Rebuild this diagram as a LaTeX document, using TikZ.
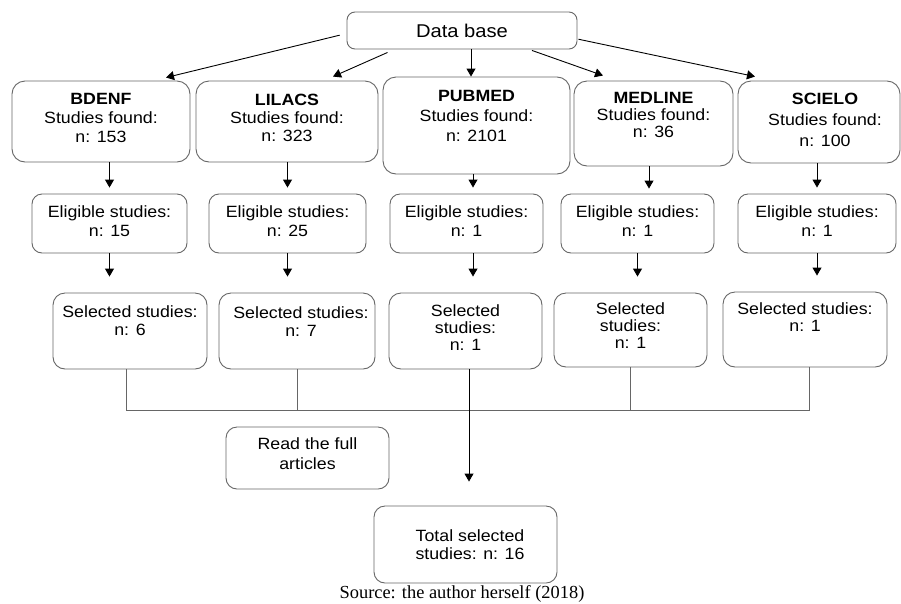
\documentclass[tikz,border=0pt]{standalone}
\usepackage{fontspec}
\setmainfont{Liberation Sans}[FakeStretch=1.09]
\newfontfamily\sourcefont{Liberation Serif}
\usetikzlibrary{arrows.meta,positioning}

\begin{document}
\begin{tikzpicture}
    [x=1pt,y=-1pt,
    base/.style={draw=black!60,line width=0.9pt,rounded corners=11pt,inner sep=0pt},
    dbbox/.style={base,rounded corners=13pt},
    elbox/.style={base,rounded corners=10pt,minimum height=59pt},
    selbox/.style={base,rounded corners=12pt,minimum height=76pt},
    txt/.style={align=center,inner sep=0pt,font=\fontsize{16.3}{19}\selectfont},
    arr/.style={-{Triangle[width=9pt,length=8pt]},line width=0.9pt},
    link/.style={draw=black!60,line width=0.9pt}]
    \useasboundingbox (0,0) rectangle (901,603);

    % top
    \node[base,rounded corners=8pt,minimum width=230pt,minimum height=37pt,
      font=\fontsize{18.5}{22}\selectfont] (db) at (462,30.5) {Data base};

    % databases
    \node[dbbox,minimum width=178pt,minimum height=81pt] (bdenf) at (101,121.5) {};
    \node[dbbox,minimum width=182pt,minimum height=81pt] (lilacs) at (287,121.5) {};
    \node[dbbox,minimum width=187pt,minimum height=97pt] (pubmed) at (476.5,125.5) {};
    \node[dbbox,minimum width=159pt,minimum height=85pt] (medline) at (653.5,123.5) {};
    \node[dbbox,minimum width=162pt,minimum height=82pt] (scielo) at (819,122) {};
    \node[txt,below=13pt of bdenf.north] (bdenf-txt) {\textbf{BDENF}\\Studies found:\\n: 153};
    \node[txt,below=13pt of lilacs.north,font=\fontsize{16.3}{18}\selectfont] (lilacs-txt) {\textbf{LILACS}\\Studies found:\\n: 323};
    \node[txt,below=14pt of pubmed.north,font=\fontsize{16.3}{19.7}\selectfont] (pubmed-txt) {\textbf{PUBMED}\\Studies found:\\n: 2101};
    \node[txt,below=12pt of medline.north,font=\fontsize{16.3}{17}\selectfont] (medline-txt) {\textbf{MEDLINE}\\Studies found:\\n: 36};
    \node[txt,below=12pt of scielo.north,xshift=6pt,font=\fontsize{16.3}{21}\selectfont] (scielo-txt) {\textbf{SCIELO}\\Studies found:\\n: 100};

    % eligible
    \node[elbox,minimum width=155pt] (bdenf-el) at (109.5,223.5) {};
    \node[elbox,minimum width=157pt] (lilacs-el) at (287.5,223.5) {};
    \node[elbox,minimum width=153pt] (pubmed-el) at (466.5,223.5) {};
    \node[elbox,minimum width=153pt] (medline-el) at (637.5,223.5) {};
    \node[elbox,minimum width=158pt] (scielo-el) at (817,223.5) {};
    \node[txt,below=12pt of bdenf-el.north] (bdenf-el-txt) {Eligible studies:\\n: 15};
    \node[txt,below=12pt of lilacs-el.north] (lilacs-el-txt) {Eligible studies:\\n: 25};
    \node[txt,below=12pt of pubmed-el.north] (pubmed-el-txt) {Eligible studies:\\n: 1};
    \node[txt,below=12pt of medline-el.north] (medline-el-txt) {Eligible studies:\\n: 1};
    \node[txt,below=12pt of scielo-el.north] (scielo-el-txt) {Eligible studies:\\n: 1};

    % selected
    \node[selbox,minimum width=154pt] (bdenf-sel) at (130,331) {};
    \node[selbox,minimum width=156pt] (lilacs-sel) at (297,331) {};
    \node[selbox,minimum width=153pt] (pubmed-sel) at (465.5,331) {};
    \node[selbox,minimum width=153pt,minimum height=74pt] (medline-sel) at (630.5,330) {};
    \node[selbox,minimum width=164pt,minimum height=75pt] (scielo-sel) at (805,329.5) {};
    \node[txt,below=13pt of bdenf-sel.north,font=\fontsize{16.3}{18}\selectfont] (bdenf-sel-txt) {Selected studies:\\n: 6};
    \node[txt,below=13.5pt of lilacs-sel.north,xshift=4pt,font=\fontsize{16.3}{18}\selectfont] (lilacs-sel-txt) {Selected studies:\\n: 7};
    \node[txt,below=12pt of pubmed-sel.north,font=\fontsize{16.3}{17}\selectfont] (pubmed-sel-txt) {Selected\\studies:\\n: 1};
    \node[txt,below=10pt of medline-sel.north,font=\fontsize{16.3}{17}\selectfont] (medline-sel-txt) {Selected\\studies:\\n: 1};
    \node[txt,below=11pt of scielo-sel.north,font=\fontsize{16.3}{17}\selectfont] (scielo-sel-txt) {Selected studies:\\n: 1};

    % bottom
    \node[base,minimum width=163pt,minimum height=62pt] (read) at (307.5,458) {};
    \node[txt,below=11pt of read.north,font=\fontsize{16.3}{20}\selectfont] (read-txt) {Read the full\\articles};
    \node[base,minimum width=183pt,minimum height=77pt] (total) at (465.5,544.5) {};
    \node[txt,below=24pt of total.north,xshift=4.5pt,font=\fontsize{16.3}{18}\selectfont] (total-txt) {Total selected\\studies: n: 16};
    \node[font=\sourcefont\fontsize{18.4}{22}\selectfont,anchor=base,inner sep=0pt] (source) at (462,598.5) {Source: the author herself (2018)};

    % arrows from the data base
    \draw[arr,shorten <=7pt] ([yshift=-3pt]db.west) -- ([xshift=65pt,yshift=3pt]bdenf.north);
    \draw[arr] ([xshift=41pt,yshift=-3pt]db.south west) -- ([xshift=46pt,yshift=4pt]lilacs.north);
    \draw[arr] ([xshift=9pt]db.south) -- ([xshift=-5.5pt]pubmed.north);
    \draw[arr] ([xshift=70pt,yshift=-1pt]db.south) -- ([xshift=-50.5pt,yshift=5pt]medline.north);
    \draw[arr,shorten <=1pt] ([yshift=-8.5pt]db.east) -- ([xshift=-64pt,yshift=4pt]scielo.north);

    % columns
    \coordinate (pm-col) at (473,0);
    \coordinate (md-col) at (649,0);
    \coordinate (pm-out) at (469,0);
    \coordinate (m1) at (126,410);
    \coordinate (m5) at (809,410);

    % found -> eligible
    \foreach \n in {bdenf,lilacs,scielo}
      \draw[arr,shorten >=6pt] (\n-el.north |- \n.south) -- (\n-el.north);
    \draw[arr,shorten >=6pt] (pm-col |- pubmed.south) -- (pm-col |- pubmed-el.north);
    \draw[arr,shorten >=5pt] (md-col |- medline.south) -- (md-col |- medline-el.north);

    % eligible -> selected
    \foreach \n in {bdenf,lilacs,medline,scielo}
      \draw[arr,shorten >=16pt] (\n-el.south) -- (\n-el.south |- \n-sel.north);
    \draw[arr,shorten >=16pt] (pm-col |- pubmed-el.south) -- (pm-col |- pubmed-sel.north);

    % merge
    \draw[link] (bdenf-sel.south -| m1) -- (m1) -- (m5) -- (m5 |- scielo-sel.south);
    \foreach \n in {lilacs,medline}
      \draw[link] (\n-sel.south) -- (\n-sel.south |- m1);
    \draw[arr,shorten >=24pt] (pm-out |- pubmed-sel.south) -- (pm-out |- total.north);
\end{tikzpicture}
\end{document}
